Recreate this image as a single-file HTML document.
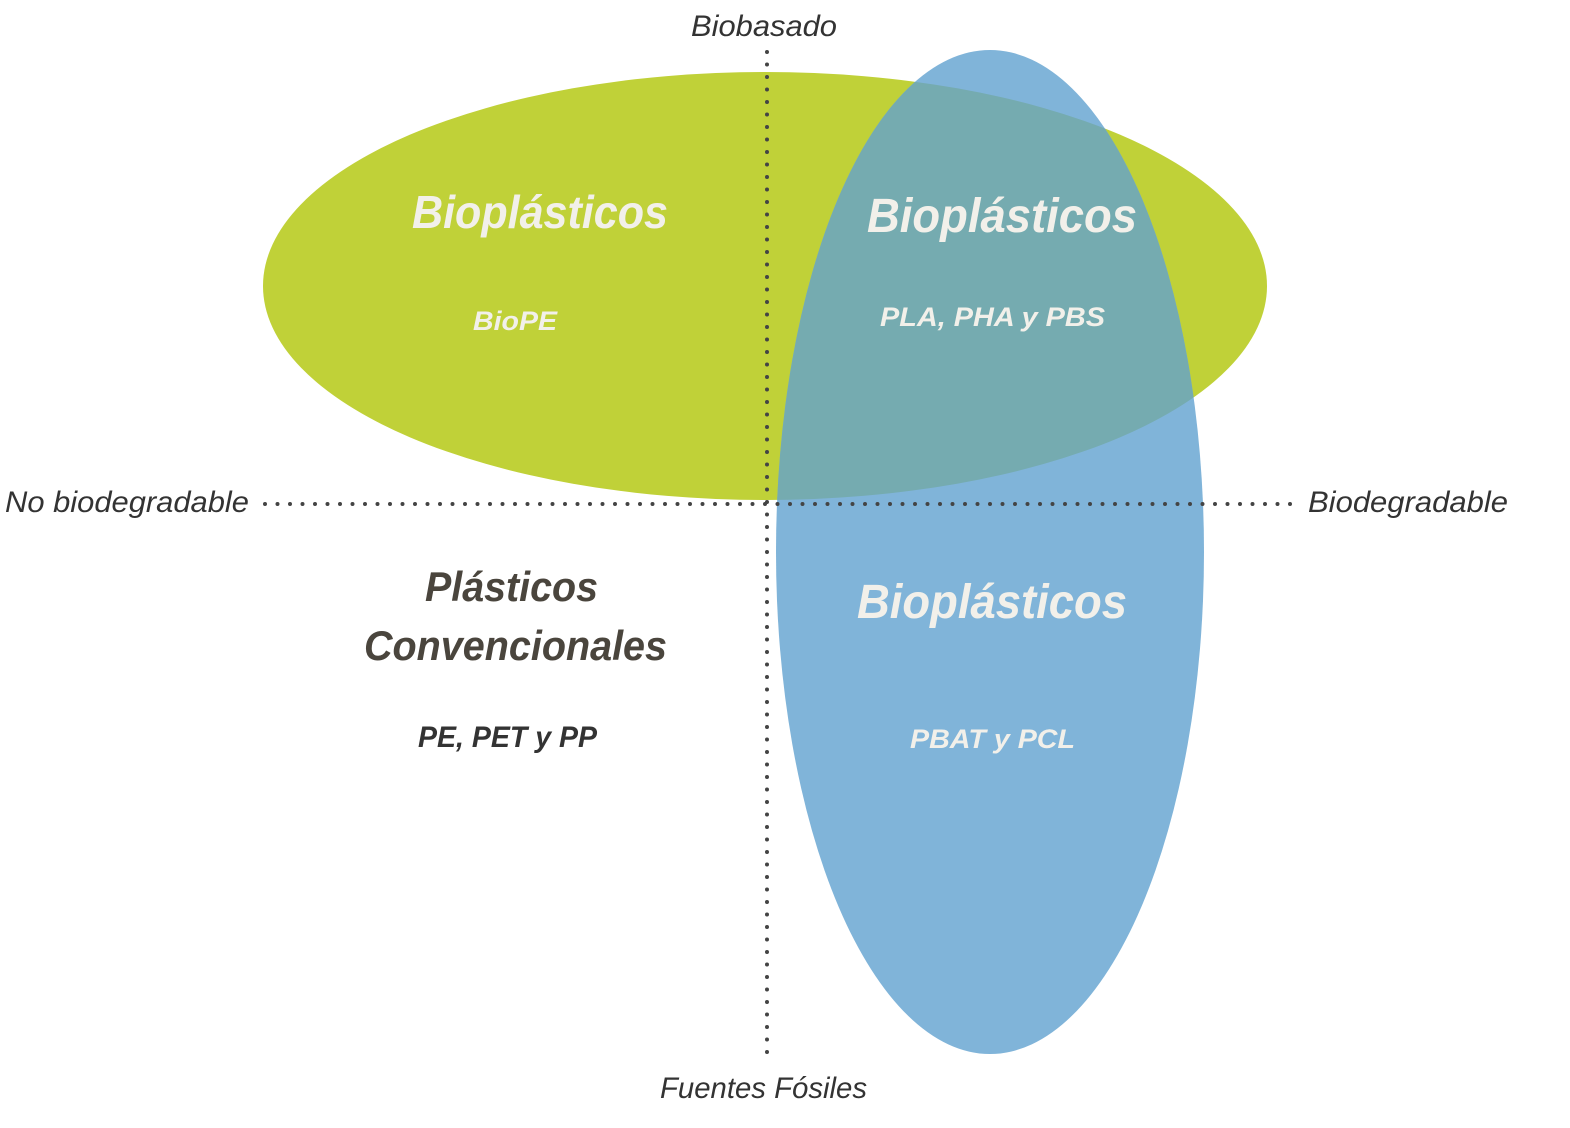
<!DOCTYPE html>
<html><head><meta charset="utf-8"><style>
html,body{margin:0;padding:0;background:#fff;}
svg{display:block;}
text{font-family:"Liberation Sans",sans-serif;font-style:italic;}
</style></head><body>
<svg width="1570" height="1128" viewBox="0 0 1570 1128" xmlns="http://www.w3.org/2000/svg">
<defs>
<clipPath id="g"><ellipse cx="765" cy="286" rx="502" ry="214"/></clipPath>
</defs>
<ellipse cx="765" cy="286" rx="502" ry="214" fill="#c0d138"/>
<ellipse cx="990" cy="552" rx="214" ry="502" fill="#80b4d9"/>
<ellipse cx="990" cy="552" rx="214" ry="502" fill="#75abb0" clip-path="url(#g)"/>
<line x1="767" y1="52" x2="767" y2="1058" stroke="#444" stroke-width="4" stroke-linecap="round" stroke-dasharray="0 12.5"/>
<line x1="265" y1="504" x2="1292" y2="504" stroke="#444" stroke-width="4" stroke-linecap="round" stroke-dasharray="0 12.5"/>
<g fill="#f2f0ea" font-weight="bold">
<text x="412" y="228" font-size="46" textLength="256" lengthAdjust="spacingAndGlyphs">Bioplásticos</text>
<text x="473" y="330" font-size="27" textLength="84" lengthAdjust="spacingAndGlyphs">BioPE</text>
<text x="867" y="232" font-size="48" textLength="270" lengthAdjust="spacingAndGlyphs">Bioplásticos</text>
<text x="880" y="326" font-size="27" textLength="225" lengthAdjust="spacingAndGlyphs">PLA, PHA y PBS</text>
<text x="857" y="618" font-size="48" textLength="270" lengthAdjust="spacingAndGlyphs">Bioplásticos</text>
<text x="910" y="748" font-size="27" textLength="165" lengthAdjust="spacingAndGlyphs">PBAT y PCL</text>
</g>
<g fill="#4a453d" font-weight="bold">
<text x="425" y="601" font-size="42" textLength="173" lengthAdjust="spacingAndGlyphs">Plásticos</text>
<text x="364" y="660" font-size="42" textLength="303" lengthAdjust="spacingAndGlyphs">Convencionales</text>
<text x="418" y="747" font-size="30" fill="#333" textLength="179" lengthAdjust="spacingAndGlyphs">PE, PET y PP</text>
</g>
<g fill="#333" font-size="30">
<text x="691" y="36" textLength="146" lengthAdjust="spacingAndGlyphs">Biobasado</text>
<text x="660" y="1098" textLength="207" lengthAdjust="spacingAndGlyphs">Fuentes Fósiles</text>
<text x="5" y="512" textLength="244" lengthAdjust="spacingAndGlyphs">No biodegradable</text>
<text x="1308" y="512" textLength="200" lengthAdjust="spacingAndGlyphs">Biodegradable</text>
</g>
</svg>
</body></html>
